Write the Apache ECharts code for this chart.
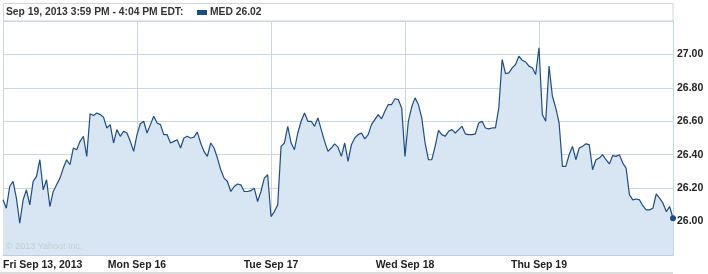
<!DOCTYPE html>
<html>
<head>
<meta charset="utf-8">
<script src="https://cdn.jsdelivr.net/npm/echarts@6/dist/echarts.min.js"></script>
<style>
html,body{margin:0;padding:0;background:#fff;}
#chart{width:708px;height:274px;}
</style>
</head>
<body>
<div id="chart"></div>
<script>
// Day labels (x-axis ticks)
const dayLabels = ["Fri Sep 13, 2013", "Mon Sep 16", "Tue Sep 17", "Wed Sep 18", "Thu Sep 19"];
const pointsPerDay = 40;

// Price series (MED), 40 samples per trading day + final close
const friPrices = [26.13, 26.08, 26.21, 26.24, 26.14, 25.99, 26.13, 26.19, 26.10, 26.24,
  26.27, 26.37, 26.19, 26.25, 26.09, 26.18, 26.22, 26.26, 26.32, 26.37,
  26.34, 26.44, 26.43, 26.48, 26.51, 26.39, 26.645, 26.635, 26.65, 26.64,
  26.625, 26.56, 26.58, 26.47, 26.55, 26.51, 26.54, 26.53, 26.48, 26.42];
const monPrices = [26.52, 26.585, 26.60, 26.53, 26.58, 26.63, 26.59, 26.58, 26.52, 26.52,
  26.47, 26.48, 26.49, 26.44, 26.50, 26.51, 26.50, 26.505, 26.535, 26.47,
  26.42, 26.39, 26.47, 26.44, 26.38, 26.31, 26.26, 26.24, 26.18, 26.21,
  26.225, 26.22, 26.18, 26.18, 26.185, 26.20, 26.12, 26.18, 26.26, 26.28];
const tuePrices = [26.03, 26.06, 26.10, 26.45, 26.47, 26.57, 26.47, 26.43, 26.53, 26.60,
  26.65, 26.60, 26.60, 26.57, 26.62, 26.55, 26.48, 26.42, 26.44, 26.465,
  26.445, 26.39, 26.47, 26.36, 26.46, 26.50, 26.52, 26.53, 26.495, 26.52,
  26.58, 26.61, 26.64, 26.615, 26.66, 26.70, 26.70, 26.735, 26.73, 26.68];
const wedPrices = [26.39, 26.60, 26.685, 26.74, 26.70, 26.62, 26.47, 26.37, 26.37, 26.45,
  26.545, 26.52, 26.51, 26.54, 26.55, 26.53, 26.55, 26.57, 26.525, 26.52,
  26.52, 26.525, 26.59, 26.60, 26.56, 26.555, 26.56, 26.56, 26.68, 26.97,
  26.885, 26.89, 26.92, 26.94, 26.99, 26.965, 26.955, 26.93, 26.92, 26.88];
const thuPrices = [27.04, 26.64, 26.60, 26.93, 26.75, 26.68, 26.59, 26.33, 26.33, 26.40,
  26.45, 26.37, 26.44, 26.45, 26.465, 26.46, 26.31, 26.37, 26.38, 26.40,
  26.37, 26.345, 26.395, 26.39, 26.40, 26.35, 26.32, 26.16, 26.13, 26.135,
  26.13, 26.095, 26.07, 26.07, 26.08, 26.165, 26.14, 26.11, 26.06, 26.09,
  26.02];

// Y-axis tick values
const yMin = 25.8, yMax = 27.2, yStep = 0.2;
const yLabelsShown = ["26.00", "26.20", "26.40", "26.60", "26.80", "27.00"];

const headerText = "Sep 19, 2013 3:59 PM - 4:04 PM EDT:";
const seriesName = "MED";
const lastPrice = "26.02";
const watermark = "\u00a9 2013 Yahoo! Inc.";

const allPrices = [].concat(friPrices, monPrices, tuePrices, wedPrices, thuPrices);
const categories = allPrices.map((v, i) => {
  const d = Math.min(Math.floor(i / pointsPerDay), dayLabels.length - 1);
  const j = i - d * pointsPerDay;
  const mins = 570 + Math.round(j * 390 / pointsPerDay);
  const hh = Math.floor(mins / 60), mm = mins % 60;
  return dayLabels[d].slice(0, 10) + " " + hh + ":" + (mm < 10 ? "0" : "") + mm;
});
const seriesData = allPrices.map((v, i) => i === allPrices.length - 1
  ? { value: v, symbol: 'circle', symbolSize: 6, itemStyle: { color: '#1c4d8a' } }
  : v);

const FONT = '"Liberation Sans", Arial, sans-serif';
const gridColor = '#c6d6e4';

const chart = echarts.init(document.getElementById('chart'), null, { renderer: 'canvas' });
chart.setOption({
  animation: false,
  backgroundColor: '#ffffff',
  grid: { left: 3, right: 35, top: 21, bottom: 19, show: false },
  xAxis: {
    type: 'category',
    data: categories,
    boundaryGap: false,
    axisLine: { show: true, lineStyle: { color: '#bccfe0', width: 1 } },
    axisTick: { show: false },
    axisLabel: {
      interval: (idx) => idx % pointsPerDay === 0 && idx < pointsPerDay * dayLabels.length,
      formatter: (val, idx) => dayLabels[Math.floor(idx / pointsPerDay)] || '',
      color: '#222',
      fontFamily: FONT,
      fontWeight: 'bold',
      fontSize: 10.5,
      margin: 5,
      alignMinLabel: 'left'
    },
    splitLine: {
      show: true,
      interval: (idx) => idx % pointsPerDay === 0,
      lineStyle: { color: gridColor, width: 1 }
    }
  },
  yAxis: {
    type: 'value',
    position: 'right',
    min: yMin, max: yMax, interval: yStep,
    axisLine: { show: true, lineStyle: { color: gridColor, width: 1 } },
    axisTick: { show: false },
    axisLabel: {
      color: '#222',
      fontFamily: FONT,
      fontWeight: 'bold',
      fontSize: 10.5,
      margin: 4,
      formatter: (v) => { const s = v.toFixed(2); return yLabelsShown.indexOf(s) >= 0 ? s : ''; }
    },
    splitLine: { show: true, lineStyle: { color: gridColor, width: 1 } }
  },
  series: [{
    name: seriesName,
    type: 'line',
    data: seriesData,
    symbol: 'none',
    showSymbol: true,
    showAllSymbol: true,
    clip: false,
    lineStyle: { color: '#1c4d8a', width: 1.2 },
    itemStyle: { color: '#1c4d8a' },
    areaStyle: { color: '#d7e6f2', opacity: 1 },
    z: 3
  }],
  graphic: [
    { type: 'rect', shape: { x: 3.5, y: 3.5, width: 669.5, height: 17.5 },
      style: { fill: '#ffffff', stroke: '#cfd4d8', lineWidth: 1 }, z: 10 },
    { type: 'text', x: 6, y: 12.5, z: 11,
      style: { text: headerText, font: 'bold 10.3px ' + FONT, fill: '#333', textVerticalAlign: 'middle' } },
    { type: 'rect', shape: { x: 197, y: 10, width: 10, height: 5 }, style: { fill: '#1c4d8a' }, z: 11 },
    { type: 'text', x: 210, y: 12.5, z: 11,
      style: { text: seriesName + ' ' + lastPrice, font: 'bold 10.3px ' + FONT, fill: '#333', textVerticalAlign: 'middle' } },
    { type: 'text', x: 6, y: 246.5, z: 11,
      style: { text: watermark, font: '9px ' + FONT, fill: '#c3ccd4', textVerticalAlign: 'middle' } },
    { type: 'rect', shape: { x: 0, y: 272, width: 673, height: 2 }, style: { fill: '#dcdcdc' }, z: 11 }
  ]
});
</script>
</body>
</html>
